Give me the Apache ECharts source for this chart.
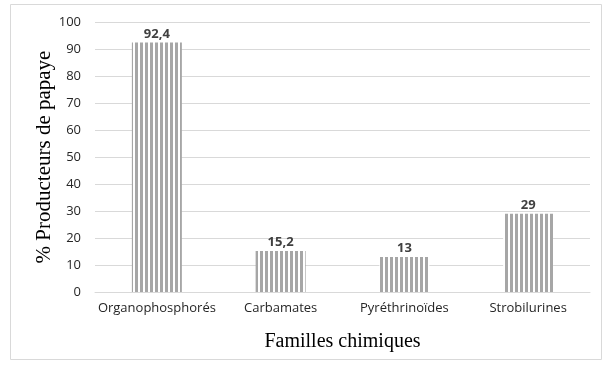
<!DOCTYPE html>
<html>
<head>
<meta charset="utf-8">
<script src="https://cdn.jsdelivr.net/npm/echarts@6/dist/echarts.min.js"></script>
<style>
  html, body { margin: 0; padding: 0; background: #fff; }
  #main { width: 612px; height: 375px; }
</style>
</head>
<body>
<div id="main"></div>
<script>
// données
const familles = ["Organophosphorés", "Carbamates", "Pyréthrinoïdes", "Strobilurines"];
const pourcentages = [92.4, 15.2, 13, 29];
const yTicks = [0, 10, 20, 30, 40, 50, 60, 70, 80, 90, 100];

// motif à rayures verticales pour les barres
function stripePattern() {
  const c = document.createElement("canvas");
  c.width = 5;
  c.height = 4;
  const ctx = c.getContext("2d");
  ctx.fillStyle = "#ffffff";
  ctx.fillRect(0, 0, 5, 4);
  ctx.fillStyle = "#a6a6a6";
  ctx.fillRect(0, 0, 3, 4);
  return c;
}

const chart = echarts.init(document.getElementById("main"));
chart.setOption({
  animation: false,
  graphic: [{
    type: "rect",
    shape: { x: 10.5, y: 4.5, width: 591, height: 355 },
    style: { fill: "none", stroke: "#d9d9d9", lineWidth: 1 },
    silent: true
  }],
  grid: { left: 95, right: 22, top: 22, bottom: 83 },
  xAxis: {
    type: "category",
    data: familles,
    name: "Familles chimiques",
    nameLocation: "middle",
    nameGap: 40,
    nameTextStyle: { fontFamily: "Liberation Serif", fontSize: 20, color: "#000" },
    axisLine: { lineStyle: { color: "#d9d9d9" } },
    axisTick: { show: false },
    axisLabel: { interval: 0, fontFamily: "Open Sans", fontSize: 13, color: "#262626", margin: 10 }
  },
  yAxis: {
    type: "value",
    min: yTicks[0],
    max: yTicks[yTicks.length - 1],
    interval: 10,
    name: "% Producteurs de papaye",
    nameLocation: "middle",
    nameGap: 40,
    nameMoveOverlap: false,
    nameTextStyle: { fontFamily: "Liberation Serif", fontSize: 21, color: "#000" },
    axisLine: { show: false },
    axisTick: { show: false },
    splitLine: { lineStyle: { color: "#d9d9d9" } },
    axisLabel: { fontFamily: "Open Sans", fontSize: 13, color: "#262626", margin: 14 }
  },
  series: [{
    type: "bar",
    data: pourcentages,
    barWidth: 50,
    itemStyle: { color: { image: stripePattern(), repeat: "repeat" } },
    label: {
      show: true,
      position: "top",
      distance: 2,
      formatter: p => String(p.value).replace(".", ","),
      fontFamily: "Open Sans",
      fontWeight: "bold",
      fontSize: 13,
      color: "#404040"
    }
  }]
});
</script>
</body>
</html>
